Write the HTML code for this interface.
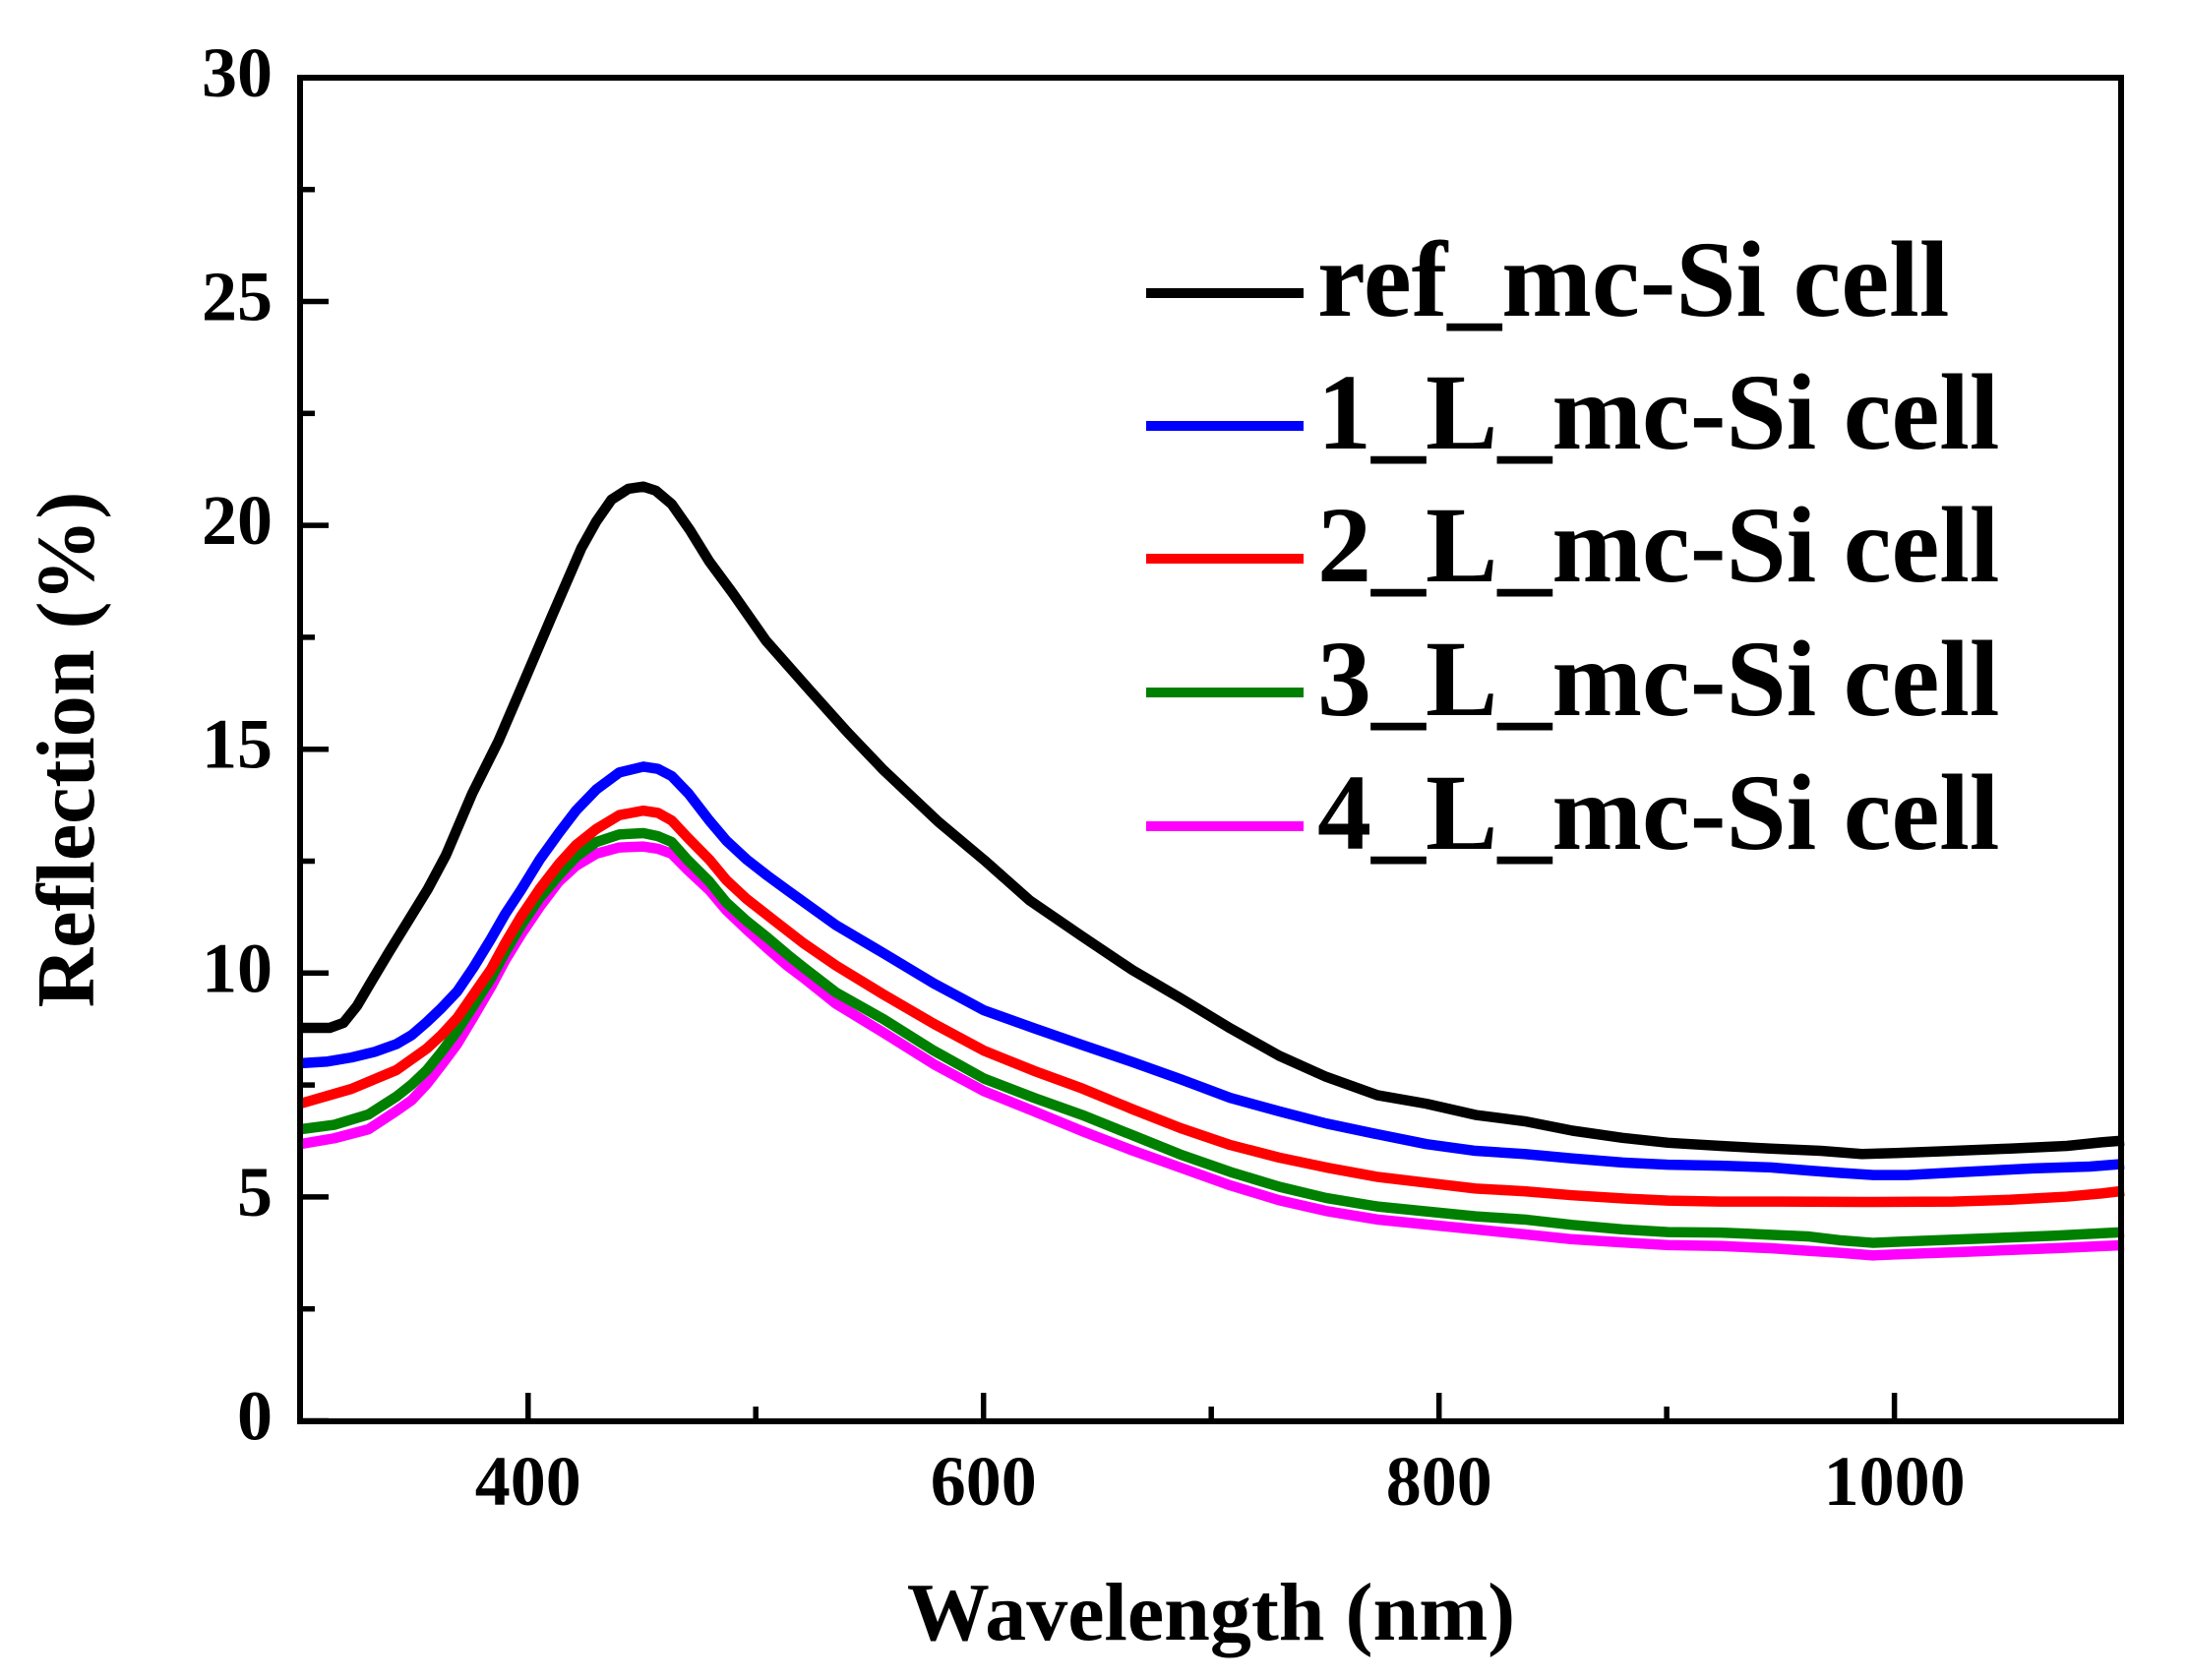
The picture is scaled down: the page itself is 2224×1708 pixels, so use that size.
<!DOCTYPE html>
<html>
<head>
<meta charset="utf-8">
<style>
  html, body { margin: 0; padding: 0; background: #ffffff; }
  svg { display: block; }
  text { font-family: "Liberation Serif", "Times New Roman", serif; font-weight: bold; fill: #000; }
</style>
</head>
<body>
<svg width="2224" height="1708" viewBox="0 0 2224 1708" xmlns="http://www.w3.org/2000/svg">
  <rect x="0" y="0" width="2224" height="1708" fill="#ffffff"/>

  <!-- Data series (data coords mapped via transform) -->
  <g transform="matrix(2.3175 0 0 -45.63 -390.25 1447)" fill="none" stroke-linejoin="round" stroke-linecap="butt">
    <!-- 4_L magenta -->
    <polyline vector-effect="non-scaling-stroke" stroke="#ff00ff" stroke-width="10.5"
      points="300,6.22 315,6.35 330,6.55 342,6.95 349,7.2 355.6,7.56 362,7.98 368.9,8.45 376,9.05 383.7,9.72 390,10.32 396.9,10.89 405,11.5 413.5,12.07 421,12.42 429.9,12.69 440,12.83 450.6,12.85 457,12.8 463,12.69 470,12.33 479.5,11.88 487,11.43 495.9,11.0 505,10.58 513.6,10.2 520.7,9.93 535,9.35 556,8.7 578,8.0 600,7.4 622,6.95 643,6.51 665,6.08 686,5.7 708,5.3 729.4,4.97 750,4.73 772.5,4.54 794,4.43 815.6,4.32 837,4.21 858,4.1 880,4.03 900,3.97 923,3.95 945,3.9 962,3.84 975,3.8 990,3.74 1003,3.77 1030,3.82 1070,3.9 1100,3.97"/>
    <!-- 3_L green -->
    <polyline vector-effect="non-scaling-stroke" stroke="#008000" stroke-width="10.5"
      points="300,6.55 315,6.65 330,6.88 342.3,7.28 349,7.55 355.6,7.87 362,8.27 368.9,8.74 376,9.3 383.7,9.91 390,10.5 396.9,11.09 405,11.7 413.5,12.21 421,12.62 429.9,12.95 440,13.12 450.6,13.15 457,13.08 463,12.95 470,12.55 479.5,12.07 487,11.6 495.9,11.19 505,10.82 513.6,10.45 520.7,10.16 535,9.6 556,9.0 578,8.3 600,7.68 622,7.25 643,6.87 665,6.42 686,5.99 708,5.6 729.4,5.27 750,5.02 772.5,4.83 794,4.72 815.6,4.61 837,4.54 858,4.42 880,4.32 900,4.26 923,4.25 945,4.2 962,4.16 975,4.08 990,4.02 1003,4.05 1030,4.1 1070,4.18 1100,4.26"/>
    <!-- 2_L red -->
    <polyline vector-effect="non-scaling-stroke" stroke="#ff0000" stroke-width="10.5"
      points="300,7.12 322.5,7.45 342.3,7.87 355.6,8.35 362,8.65 368.9,9.03 376,9.55 383.7,10.11 390,10.7 396.9,11.29 405,11.9 413.5,12.46 421,12.88 429.9,13.24 440,13.55 450.6,13.65 457,13.6 463,13.43 470,13.05 479.5,12.56 487,12.1 495.9,11.68 505,11.32 513.6,10.98 520.7,10.7 535,10.2 556,9.55 578,8.9 600,8.3 622,7.85 643,7.46 665,7.0 686,6.58 708,6.2 729.4,5.92 750,5.7 772.5,5.49 794,5.36 815.6,5.23 837,5.17 858,5.08 880,5.01 900,4.96 923,4.94 950,4.94 985,4.93 1025,4.94 1050,4.98 1075,5.05 1090,5.12 1100,5.18"/>
    <!-- 1_L blue -->
    <polyline vector-effect="non-scaling-stroke" stroke="#0000ff" stroke-width="10.5"
      points="300,8.02 312,8.06 322.5,8.15 333,8.28 342.3,8.45 349,8.65 355.6,8.94 362,9.25 368.9,9.62 376,10.15 383.7,10.79 390,11.35 396.9,11.88 405,12.55 413.5,13.15 421,13.65 429.9,14.12 440,14.5 450.6,14.63 457,14.58 463,14.42 470.4,14.03 479.5,13.43 487,12.98 495.9,12.56 505,12.2 513.6,11.88 535,11.1 556,10.47 578,9.8 600,9.2 622,8.8 643,8.43 665,8.05 686,7.67 708,7.25 729.4,6.95 750,6.68 772.5,6.44 794,6.22 815.6,6.07 837,6.0 858,5.9 880,5.81 900,5.76 923,5.74 945,5.7 962,5.63 975,5.58 990,5.53 1005,5.53 1030,5.6 1060,5.68 1085,5.72 1100,5.78"/>
    <!-- ref black -->
    <polyline vector-effect="non-scaling-stroke" stroke="#000000" stroke-width="10.5"
      points="300,8.81 313,8.81 319,8.92 325,9.3 331,9.82 339,10.5 347.4,11.19 356,11.9 363.9,12.65 375.5,14.03 387,15.2 396.9,16.37 410,17.93 423.4,19.5 430,20.1 436.6,20.58 444,20.82 450.6,20.87 456,20.78 463,20.48 471,19.9 479.5,19.2 489.7,18.5 504.3,17.44 523.6,16.33 540,15.4 556,14.55 580,13.4 600,12.55 620,11.65 643,10.85 665,10.1 686.2,9.47 708,8.8 729.4,8.19 750,7.72 772.5,7.31 794,7.12 815.6,6.87 837,6.73 858,6.52 880,6.36 900,6.25 923,6.18 945,6.12 967,6.07 985,6.0 1000,6.02 1020,6.06 1050,6.12 1075,6.18 1090,6.26 1100,6.3"/>
  </g>

  <!-- Axes frame -->
  <rect x="305" y="79" width="1851" height="1366" fill="none" stroke="#000" stroke-width="6"/>

  <!-- Y ticks -->
  <g stroke="#000" stroke-width="5.5">
    <line x1="305" y1="1444.5" x2="334" y2="1444.5"/>
    <line x1="305" y1="1330.7" x2="320" y2="1330.7"/>
    <line x1="305" y1="1216.9" x2="334" y2="1216.9"/>
    <line x1="305" y1="1103.1" x2="320" y2="1103.1"/>
    <line x1="305" y1="989.3" x2="334" y2="989.3"/>
    <line x1="305" y1="875.5" x2="320" y2="875.5"/>
    <line x1="305" y1="761.7" x2="334" y2="761.7"/>
    <line x1="305" y1="647.9" x2="320" y2="647.9"/>
    <line x1="305" y1="534.1" x2="334" y2="534.1"/>
    <line x1="305" y1="420.3" x2="320" y2="420.3"/>
    <line x1="305" y1="306.5" x2="334" y2="306.5"/>
    <line x1="305" y1="192.7" x2="320" y2="192.7"/>
  </g>

  <!-- X ticks -->
  <g stroke="#000" stroke-width="5.5">
    <line x1="536.8" y1="1445" x2="536.8" y2="1416"/>
    <line x1="768.2" y1="1445" x2="768.2" y2="1430"/>
    <line x1="999.7" y1="1445" x2="999.7" y2="1416"/>
    <line x1="1231.2" y1="1445" x2="1231.2" y2="1430"/>
    <line x1="1462.7" y1="1445" x2="1462.7" y2="1416"/>
    <line x1="1694.1" y1="1445" x2="1694.1" y2="1430"/>
    <line x1="1925.6" y1="1445" x2="1925.6" y2="1416"/>
  </g>

  <!-- Y tick labels -->
  <g font-size="72" text-anchor="end">
    <text x="277" y="1463.5">0</text>
    <text x="277" y="1236">5</text>
    <text x="277" y="1008.5">10</text>
    <text x="277" y="780.7">15</text>
    <text x="277" y="553">20</text>
    <text x="277" y="325.5">25</text>
    <text x="277" y="98">30</text>
  </g>

  <!-- X tick labels -->
  <g font-size="72" text-anchor="middle">
    <text x="536.8" y="1530">400</text>
    <text x="999.7" y="1530">600</text>
    <text x="1462.7" y="1530">800</text>
    <text x="1925.6" y="1530">1000</text>
  </g>

  <!-- Axis titles -->
  <text x="1231" y="1667" font-size="84" text-anchor="middle">Wavelength (nm)</text>
  <text transform="translate(95,762) rotate(-90)" font-size="84" text-anchor="middle">Reflection (%)</text>

  <!-- Legend -->
  <g stroke-width="10" stroke-linecap="butt">
    <line x1="1165" y1="298" x2="1325" y2="298" stroke="#000000"/>
    <line x1="1165" y1="433" x2="1325" y2="433" stroke="#0000ff"/>
    <line x1="1165" y1="568" x2="1325" y2="568" stroke="#ff0000"/>
    <line x1="1165" y1="704" x2="1325" y2="704" stroke="#008000"/>
    <line x1="1165" y1="840" x2="1325" y2="840" stroke="#ff00ff"/>
  </g>
  <g font-size="110">
    <text x="1339" y="321">ref_mc-Si cell</text>
    <text x="1339" y="456">1_L_mc-Si cell</text>
    <text x="1339" y="591">2_L_mc-Si cell</text>
    <text x="1339" y="727">3_L_mc-Si cell</text>
    <text x="1339" y="863">4_L_mc-Si cell</text>
  </g>
</svg>
</body>
</html>
